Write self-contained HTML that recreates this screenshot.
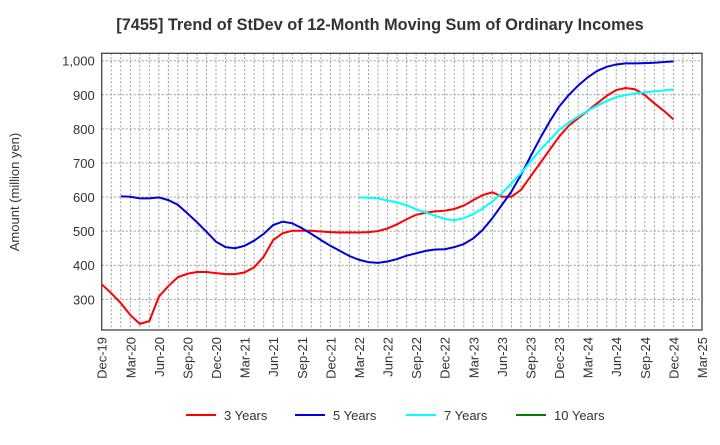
<!DOCTYPE html>
<html><head><meta charset="utf-8"><style>
body{margin:0;background:#fff;font-family:"Liberation Sans",sans-serif}
svg text{font-family:"Liberation Sans",sans-serif}
</style></head><body>
<svg id="chart" width="720" height="440" xmlns="http://www.w3.org/2000/svg">
<text x="380" y="30" text-anchor="middle" font-size="16.3" font-weight="bold" fill="#333">[7455]  Trend of StDev of 12-Month Moving Sum of Ordinary Incomes</text>
<text transform="translate(19,192) rotate(-90)" text-anchor="middle" font-size="13" fill="#333">Amount (million yen)</text>
<g id="grid"></g><g id="axes"></g><g id="series"></g><g id="legend"></g>
</svg>
<script>
const xLabels=["Dec-19","Mar-20","Jun-20","Sep-20","Dec-20","Mar-21","Jun-21","Sep-21","Dec-21","Mar-22","Jun-22","Sep-22","Dec-22","Mar-23","Jun-23","Sep-23","Dec-23","Mar-24","Jun-24","Sep-24","Dec-24","Mar-25"];
const yTicks=[300,400,500,600,700,800,900,1000];
const seriesNames=["3 Years","5 Years","7 Years","10 Years"];
const seriesColors=["#ff0000","#0000dd","#00ffff","#008000"];
const start3=0;
const values3=[344,318,289,254,228,236,308,339,365,375,380,380,377,374,374,379,394,425,474,494,501,501,501,499,497,496,496,496,497,500,508,520,535,548,554,558,560,565,575,591,606,614,601,601,621,660,699,738,777,809,831,853,875,897,914,920,916,899,875,853,828];
const start5=2;
const values5=[602,601,596,596,599,591,577,552,526,498,469,453,450,457,472,492,518,528,523,509,492,474,457,442,427,416,409,407,411,418,428,435,442,446,447,453,462,479,504,538,577,616,665,719,772,821,865,899,927,951,970,982,989,992,992,993,994,996,998];
const start7=27;
const values7=[599,598,596,590,584,576,564,555,545,536,532,538,550,567,587,611,640,670,704,738,767,797,818,836,853,868,882,893,899,904,907,910,913,916];
const start10=0;
const values10=[];
const L=101.7,R=702,T=53.3,B=330,yMin=210,yMax=1021.7,nMonths=63;
const NS="http://www.w3.org/2000/svg";
const xs=m=>L+m*(R-L)/nMonths;
const ys=v=>B-(v-yMin)*(B-T)/(yMax-yMin);
function mk(tag,attrs,parent){const e=document.createElementNS(NS,tag);for(const k in attrs)e.setAttribute(k,attrs[k]);parent.appendChild(e);return e;}
const grid=document.getElementById('grid'),axes=document.getElementById('axes'),ser=document.getElementById('series'),leg=document.getElementById('legend');
for(let m=1;m<nMonths;m++){const l=mk('line',{x1:xs(m),x2:xs(m),y1:T,y2:B,stroke:'#999','stroke-dasharray':'2,2','stroke-width':1},grid);

}
yTicks.forEach(v=>{const l=mk('line',{x1:L,x2:R,y1:ys(v),y2:ys(v),stroke:'#999','stroke-dasharray':'2,2','stroke-width':1},grid);


const t=mk('text',{x:L-7,y:ys(v)+5,'text-anchor':'end','font-size':13,fill:'#333'},axes);t.textContent=v.toLocaleString('en-US');

});
xLabels.forEach((s,i)=>{const x=xs(i*3);const t=mk('text',{transform:`translate(${x+5},${B+7}) rotate(-90)`,'text-anchor':'end','font-size':13,fill:'#333'},axes);t.textContent=s;

});
const frame=mk('rect',{x:L,y:T,width:R-L,height:B-T,fill:'none',stroke:'#444','stroke-width':1.3},axes);


[[values3,start3],[values5,start5],[values7,start7],[values10,start10]].forEach(([vals,st],i)=>{
if(!vals.length)return;
const p=mk('polyline',{points:vals.map((v,j)=>xs(st+j)+','+ys(v)).join(' '),fill:'none',stroke:seriesColors[i],'stroke-width':2},ser);

});
const lx=[186,295,406,516];
seriesNames.forEach((n,i)=>{const g=mk('g',{},leg);


mk('line',{x1:lx[i],x2:lx[i]+30,y1:415,y2:415,stroke:seriesColors[i],'stroke-width':2},g);
const t=mk('text',{x:lx[i]+38,y:420,'font-size':13,fill:'#333'},g);t.textContent=n;});
</script>
</body></html>
